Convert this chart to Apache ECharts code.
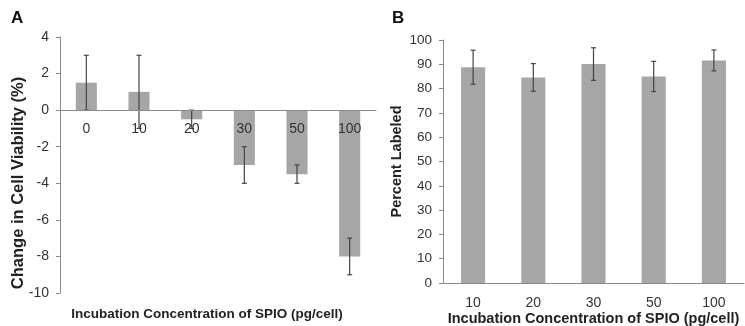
<!DOCTYPE html>
<html>
<head>
<meta charset="utf-8">
<script src="https://cdn.jsdelivr.net/npm/echarts@6/dist/echarts.min.js"></script>
<style>
html, body { margin: 0; padding: 0; background: #fff; }
#main { width: 745px; height: 326px; }
</style>
</head>
<body>
<div id="main"></div>
<script>
// panel A: change in viability
var categoriesA = ['0', '10', '20', '30', '50', '100'];
var viabilityA = [1.5, 1.0, -0.5, -3.0, -3.5, -8.0];
var viabilityErrA = [1.5, 2.0, 0.5, 1.0, 0.5, 1.0];
var ticksA = { min: -10, max: 4, interval: 2 };

// panel B: percent labeled
var categoriesB = ['10', '20', '30', '50', '100'];
var labeledB = [88.8, 84.6, 90.1, 85.0, 91.6];
var labeledErrB = [7.0, 5.7, 6.7, 6.2, 4.3];
var ticksB = { min: 0, max: 100, interval: 10 };

var font = 'Liberation Sans, Arial, sans-serif';
var barColor = '#a6a6a6';
var axisColor = '#8a8a8a';

var gridA = { left: 60, top: 37, width: 316, height: 256, outerBoundsMode: 'none' };
var gridB = { left: 443, top: 40, width: 301, height: 243, outerBoundsMode: 'none' };
// helper grid over the upper part of A: its bottom edge is the zero line,
// so the category axis (line, ticks, labels) of A is drawn there
var gridA0 = {
    left: gridA.left, top: gridA.top, width: gridA.width,
    height: gridA.height * ticksA.max / (ticksA.max - ticksA.min),
    outerBoundsMode: 'none'
};

function errData(vals, errs) {
    return vals.map(function (v, i) { return [i, v - errs[i], v + errs[i]]; });
}

function errRender(capHalf) {
    return function (params, api) {
        var lo = api.coord([api.value(0), api.value(1)]);
        var hi = api.coord([api.value(0), api.value(2)]);
        var st = { stroke: '#444', lineWidth: 1.2 };
        return {
            type: 'group',
            children: [
                { type: 'line', shape: { x1: hi[0], y1: hi[1], x2: lo[0], y2: lo[1] }, style: st },
                { type: 'line', shape: { x1: hi[0] - capHalf, y1: hi[1], x2: hi[0] + capHalf, y2: hi[1] }, style: st },
                { type: 'line', shape: { x1: lo[0] - capHalf, y1: lo[1], x2: lo[0] + capHalf, y2: lo[1] }, style: st }
            ]
        };
    };
}

var myChart = echarts.init(document.getElementById('main'));

myChart.setOption({
    animation: false,
    textStyle: { fontFamily: font },
    title: [
        { text: 'A', left: 11, top: 10, padding: 0, textStyle: { fontSize: 17, fontWeight: 'bold', color: '#111', fontFamily: font } },
        { text: 'B', left: 392, top: 10, padding: 0, textStyle: { fontSize: 17, fontWeight: 'bold', color: '#111', fontFamily: font } },
        { text: 'Incubation Concentration of SPIO (pg/cell)', left: 207, top: 307, padding: 0, textAlign: 'center',
          textStyle: { fontSize: 13.5, fontWeight: 'bold', color: '#222', fontFamily: font } }
    ],
    grid: [gridA, gridB, gridA0],
    xAxis: [
        { type: 'category', gridIndex: 0, data: categoriesA, show: false },
        {
            type: 'category', gridIndex: 1, data: categoriesB,
            axisLine: { lineStyle: { color: axisColor } },
            axisTick: { length: 4, lineStyle: { color: axisColor } },
            axisLabel: { fontSize: 14, color: '#333', margin: 13 },
            name: 'Incubation Concentration of SPIO (pg/cell)',
            nameLocation: 'middle', nameGap: 28, nameMoveOverlap: false,
            nameTextStyle: { fontSize: 14.5, fontWeight: 'bold', color: '#222' }
        },
        {
            type: 'category', gridIndex: 2, data: categoriesA, z: 10,
            axisLine: { onZero: false, lineStyle: { color: axisColor } },
            axisTick: { length: 4, lineStyle: { color: axisColor } },
            axisLabel: { fontSize: 14, color: '#333', margin: 12 }
        }
    ],
    yAxis: [
        {
            type: 'value', gridIndex: 0, min: ticksA.min, max: ticksA.max, interval: ticksA.interval,
            splitLine: { show: false },
            axisLine: { show: true, lineStyle: { color: axisColor } },
            axisTick: { show: true, length: 4, lineStyle: { color: axisColor } },
            axisLabel: { fontSize: 14, color: '#333', margin: 11 },
            name: 'Change in Cell Viability (%)',
            nameLocation: 'middle', nameGap: 33, nameMoveOverlap: false,
            nameTextStyle: { fontSize: 16.5, fontWeight: 'bold', color: '#222', padding: [0, 36, 0, 0] }
        },
        {
            type: 'value', gridIndex: 1, min: ticksB.min, max: ticksB.max, interval: ticksB.interval,
            splitLine: { show: false },
            axisLine: { show: true, lineStyle: { color: axisColor } },
            axisTick: { show: true, length: 4, lineStyle: { color: axisColor } },
            axisLabel: { fontSize: 13.5, color: '#333', margin: 11 },
            name: 'Percent Labeled',
            nameLocation: 'middle', nameGap: 39, nameMoveOverlap: false,
            nameTextStyle: { fontSize: 14.5, fontWeight: 'bold', color: '#222' }
        },
        { type: 'value', gridIndex: 2, min: 0, max: ticksA.max, show: false }
    ],
    series: [
        {
            name: 'viability', type: 'bar', xAxisIndex: 0, yAxisIndex: 0,
            data: viabilityA, barWidth: '40%',
            itemStyle: { color: barColor }
        },
        {
            type: 'custom', xAxisIndex: 0, yAxisIndex: 0,
            data: errData(viabilityA, viabilityErrA),
            renderItem: errRender(2.5), z: 5
        },
        {
            name: 'labeled', type: 'bar', xAxisIndex: 1, yAxisIndex: 1,
            data: labeledB, barWidth: '40%',
            itemStyle: { color: barColor }
        },
        {
            type: 'custom', xAxisIndex: 1, yAxisIndex: 1,
            data: errData(labeledB, labeledErrB),
            renderItem: errRender(2.5), z: 5
        }
    ]
});
</script>
</body>
</html>
